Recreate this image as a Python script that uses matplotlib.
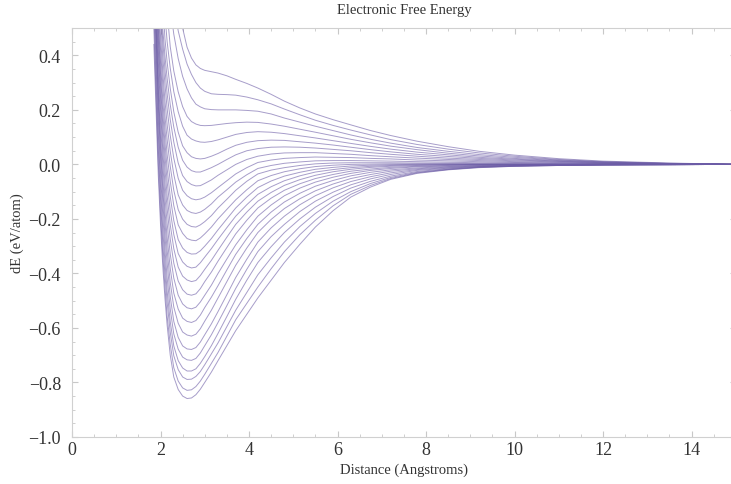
import matplotlib
matplotlib.use("Agg")
import matplotlib.pyplot as plt
from matplotlib.ticker import MultipleLocator, FuncFormatter

plt.rcParams['font.family'] = ['Liberation Serif', 'DejaVu Serif']

# distance grid (Angstroms) shared by all curves
dist = [1.85, 1.95, 2.0, 2.05, 2.1, 2.15, 2.22, 2.3, 2.4, 2.5, 2.6, 2.7,
        2.8, 2.9, 3.0, 3.15, 3.3, 3.5, 3.7, 3.95, 4.2, 4.5, 4.8, 5.15,
        5.5, 5.9, 6.3, 6.75, 7.2, 7.8, 8.5, 9.2, 10.0, 11.0, 12.0, 13.5, 15.0]

# dE (eV/atom), one list per curve, top curve first
dE_00 = [1.9, 1.5, 1.32, 1.17, 1.04, 0.93, 0.8, 0.69, 0.58, 0.50, 0.43, 0.39,
         0.365, 0.352, 0.345, 0.34, 0.335, 0.325, 0.312, 0.297, 0.28, 0.257, 0.232, 0.207,
         0.185, 0.164, 0.145, 0.124, 0.106, 0.085, 0.065, 0.048, 0.034, 0.021, 0.012, 0.005, 0.0]
dE_01 = [1.75, 1.38, 1.2, 1.05, 0.93, 0.82, 0.7, 0.59, 0.49, 0.423, 0.368, 0.33,
         0.30, 0.28, 0.268, 0.259, 0.257, 0.256, 0.254, 0.247, 0.237, 0.222, 0.203, 0.182,
         0.162, 0.143, 0.126, 0.108, 0.091, 0.073, 0.056, 0.042, 0.03, 0.018, 0.01, 0.004, 0.0]
dE_02 = [1.65, 1.25, 1.07, 0.92, 0.8, 0.7, 0.58, 0.478, 0.388, 0.323, 0.277, 0.244,
         0.221, 0.211, 0.204, 0.201, 0.2, 0.2, 0.2, 0.198, 0.195, 0.185, 0.17, 0.155,
         0.14, 0.124, 0.108, 0.092, 0.078, 0.062, 0.048, 0.036, 0.026, 0.016, 0.009, 0.003, 0.0]
dE_03 = [1.55, 1.12, 0.93, 0.78, 0.66, 0.56, 0.432, 0.343, 0.266, 0.212, 0.176, 0.157,
         0.148, 0.143, 0.142, 0.143, 0.146, 0.15, 0.153, 0.155, 0.154, 0.148, 0.14, 0.129,
         0.118, 0.105, 0.092, 0.079, 0.067, 0.054, 0.041, 0.031, 0.022, 0.014, 0.008, 0.003, 0.0]
dE_04 = [1.45, 1.02, 0.84, 0.68, 0.55, 0.45, 0.353, 0.267, 0.193, 0.14, 0.107, 0.093,
         0.086, 0.082, 0.081, 0.084, 0.09, 0.1, 0.11, 0.117, 0.12, 0.118, 0.113, 0.105,
         0.097, 0.087, 0.077, 0.066, 0.056, 0.045, 0.035, 0.026, 0.019, 0.012, 0.007, 0.003, 0.0]
dE_05 = [1.35, 0.93, 0.75, 0.6, 0.462, 0.375, 0.279, 0.193, 0.118, 0.068, 0.043, 0.028,
         0.022, 0.02, 0.022, 0.03, 0.04, 0.056, 0.07, 0.081, 0.087, 0.089, 0.088, 0.083,
         0.078, 0.071, 0.063, 0.054, 0.046, 0.037, 0.029, 0.022, 0.016, 0.011, 0.006, 0.002, 0.0]
dE_06 = [1.25, 0.85, 0.66, 0.5, 0.399, 0.315, 0.219, 0.137, 0.063, 0.015, -0.01, -0.023,
         -0.028, -0.028, -0.022, -0.012, 0.0, 0.018, 0.035, 0.05, 0.058, 0.063, 0.064, 0.063,
         0.06, 0.055, 0.05, 0.043, 0.037, 0.03, 0.023, 0.018, 0.013, 0.009, 0.005, 0.002, 0.0]
dE_07 = [1.2, 0.78, 0.6, 0.454, 0.349, 0.259, 0.164, 0.082, 0.005, -0.041, -0.063, -0.074,
         -0.079, -0.078, -0.07, -0.057, -0.04, -0.02, 0.0, 0.018, 0.03, 0.038, 0.042, 0.043,
         0.043, 0.04, 0.037, 0.032, 0.028, 0.023, 0.018, 0.014, 0.01, 0.007, 0.004, 0.002, 0.0]
dE_08 = [1.15, 0.7, 0.54, 0.399, 0.295, 0.204, 0.106, 0.023, -0.051, -0.095, -0.115, -0.126,
         -0.13, -0.127, -0.12, -0.104, -0.085, -0.06, -0.035, -0.012, 0.007, 0.016, 0.022, 0.025,
         0.027, 0.026, 0.025, 0.022, 0.02, 0.016, 0.013, 0.01, 0.007, 0.005, 0.003, 0.001, 0.0]
dE_09 = [1.1, 0.63, 0.473, 0.345, 0.235, 0.146, 0.048, -0.037, -0.112, -0.149, -0.169, -0.177,
         -0.18, -0.175, -0.165, -0.145, -0.12, -0.093, -0.065, -0.038, -0.015, -0.004, 0.004, 0.009,
         0.013, 0.014, 0.014, 0.013, 0.012, 0.01, 0.008, 0.006, 0.005, 0.003, 0.002, 0.001, 0.0]
dE_10 = [1.05, 0.57, 0.423, 0.296, 0.179, 0.091, -0.007, -0.095, -0.166, -0.201, -0.22, -0.228,
         -0.23, -0.222, -0.21, -0.188, -0.16, -0.128, -0.095, -0.062, -0.035, -0.021, -0.012, -0.004,
         0.002, 0.005, 0.006, 0.006, 0.006, 0.005, 0.004, 0.003, 0.003, 0.002, 0.001, 0.0, 0.0]
dE_11 = [1.0, 0.53, 0.375, 0.239, 0.13, 0.036, -0.062, -0.151, -0.222, -0.253, -0.272, -0.278,
         -0.28, -0.27, -0.255, -0.23, -0.20, -0.165, -0.13, -0.093, -0.06, -0.041, -0.027, -0.016,
         -0.008, -0.003, 0.0, 0.001, 0.002, 0.002, 0.002, 0.001, 0.001, 0.0, 0.0, 0.0, 0.0]
dE_12 = [0.96, 0.5, 0.334, 0.193, 0.081, -0.015, -0.118, -0.206, -0.276, -0.307, -0.323, -0.329,
         -0.328, -0.317, -0.30, -0.272, -0.24, -0.2, -0.16, -0.12, -0.085, -0.061, -0.043, -0.029,
         -0.018, -0.011, -0.006, -0.003, -0.001, 0.0, 0.0, 0.0, 0.0, 0.0, 0.0, 0.0, 0.0]
dE_13 = [0.92, 0.462, 0.293, 0.148, 0.034, -0.063, -0.169, -0.257, -0.327, -0.358, -0.374, -0.38,
         -0.377, -0.361, -0.34, -0.309, -0.275, -0.232, -0.19, -0.148, -0.11, -0.082, -0.06, -0.042,
         -0.028, -0.019, -0.012, -0.007, -0.004, -0.002, -0.001, 0.0, 0.0, 0.0, 0.0, 0.0, 0.0]
dE_14 = [0.88, 0.421, 0.249, 0.10, -0.016, -0.114, -0.221, -0.309, -0.377, -0.41, -0.424, -0.43,
         -0.426, -0.408, -0.385, -0.352, -0.315, -0.267, -0.22, -0.175, -0.135, -0.103, -0.077, -0.056,
         -0.04, -0.027, -0.018, -0.011, -0.007, -0.004, -0.002, -0.001, -0.001, 0.0, 0.0, 0.0, 0.0]
dE_15 = [0.84, 0.378, 0.206, 0.054, -0.068, -0.162, -0.274, -0.362, -0.428, -0.46, -0.476, -0.48,
         -0.475, -0.456, -0.43, -0.395, -0.355, -0.305, -0.255, -0.205, -0.16, -0.124, -0.095, -0.071,
         -0.052, -0.037, -0.025, -0.017, -0.011, -0.007, -0.004, -0.002, -0.001, -0.001, 0.0, 0.0, 0.0]
dE_16 = [0.80, 0.33, 0.155, 0.006, -0.118, -0.216, -0.329, -0.417, -0.48, -0.512, -0.526, -0.53,
         -0.524, -0.505, -0.48, -0.443, -0.40, -0.347, -0.295, -0.24, -0.19, -0.149, -0.115, -0.087,
         -0.065, -0.047, -0.033, -0.022, -0.015, -0.009, -0.006, -0.004, -0.002, -0.001, -0.001, 0.0, 0.0]
dE_17 = [0.76, 0.284, 0.10, -0.045, -0.17, -0.267, -0.382, -0.472, -0.531, -0.564, -0.576, -0.58,
         -0.573, -0.553, -0.525, -0.487, -0.445, -0.387, -0.33, -0.272, -0.22, -0.175, -0.138, -0.106,
         -0.08, -0.059, -0.042, -0.029, -0.02, -0.013, -0.008, -0.005, -0.003, -0.002, -0.001, 0.0, 0.0]
dE_18 = [0.74, 0.255, 0.063, -0.088, -0.212, -0.314, -0.433, -0.523, -0.583, -0.615, -0.626, -0.63,
         -0.623, -0.603, -0.575, -0.535, -0.49, -0.43, -0.37, -0.307, -0.25, -0.202, -0.162, -0.126,
         -0.097, -0.072, -0.052, -0.037, -0.025, -0.016, -0.01, -0.006, -0.004, -0.002, -0.001, -0.001, 0.0]
dE_19 = [0.72, 0.22, 0.028, -0.131, -0.261, -0.361, -0.485, -0.576, -0.635, -0.666, -0.677, -0.679,
         -0.672, -0.652, -0.625, -0.585, -0.54, -0.478, -0.415, -0.348, -0.285, -0.233, -0.19, -0.148,
         -0.115, -0.086, -0.063, -0.045, -0.031, -0.019, -0.012, -0.008, -0.005, -0.003, -0.001, -0.001, 0.0]
dE_20 = [0.68, 0.17, -0.03, -0.183, -0.311, -0.415, -0.531, -0.622, -0.678, -0.707, -0.717, -0.719,
         -0.712, -0.692, -0.665, -0.625, -0.58, -0.518, -0.455, -0.385, -0.32, -0.265, -0.22, -0.173,
         -0.135, -0.102, -0.075, -0.053, -0.037, -0.022, -0.014, -0.008, -0.005, -0.003, -0.002, -0.001, 0.0]
dE_21 = [0.62, 0.116, -0.08, -0.237, -0.357, -0.464, -0.577, -0.666, -0.72, -0.747, -0.758, -0.758,
         -0.75, -0.73, -0.705, -0.665, -0.62, -0.558, -0.495, -0.425, -0.36, -0.302, -0.25, -0.2,
         -0.157, -0.118, -0.087, -0.062, -0.043, -0.026, -0.016, -0.01, -0.006, -0.003, -0.002, -0.001, 0.0]
dE_22 = [0.56, 0.06, -0.125, -0.287, -0.403, -0.506, -0.616, -0.702, -0.753, -0.78, -0.789, -0.788,
         -0.778, -0.76, -0.735, -0.695, -0.655, -0.595, -0.535, -0.47, -0.405, -0.343, -0.285, -0.228,
         -0.18, -0.135, -0.1, -0.07, -0.048, -0.029, -0.018, -0.01, -0.006, -0.004, -0.002, -0.001, 0.0]
dE_23 = [0.5, 0.004, -0.18, -0.33, -0.45, -0.557, -0.66, -0.746, -0.795, -0.82, -0.829, -0.827,
         -0.815, -0.795, -0.77, -0.73, -0.69, -0.63, -0.57, -0.51, -0.45, -0.383, -0.32, -0.258,
         -0.205, -0.152, -0.11, -0.077, -0.052, -0.031, -0.019, -0.011, -0.007, -0.004, -0.002, -0.001, 0.0]
dE_24 = [0.44, -0.04, -0.22, -0.37, -0.49, -0.59, -0.70, -0.78, -0.826, -0.85, -0.859, -0.857,
         -0.845, -0.825, -0.80, -0.762, -0.72, -0.665, -0.61, -0.55, -0.49, -0.425, -0.36, -0.293,
         -0.23, -0.17, -0.12, -0.083, -0.055, -0.033, -0.02, -0.012, -0.007, -0.004, -0.002, -0.001, 0.0]

curves = [dE_00, dE_01, dE_02, dE_03, dE_04, dE_05, dE_06, dE_07, dE_08,
          dE_09, dE_10, dE_11, dE_12, dE_13, dE_14, dE_15, dE_16, dE_17,
          dE_18, dE_19, dE_20, dE_21, dE_22, dE_23, dE_24]

fig = plt.figure(figsize=(7.31, 4.85), dpi=100)
ax = fig.add_axes([0.0985, 0.097, 0.908, 0.843])

for ys in curves:
    ax.plot(dist, ys, color='#6c5ca6', lw=0.7, alpha=0.6)

ax.set_xlim(0, 15)
ax.set_ylim(-1.0, 0.5)
ax.xaxis.set_major_locator(MultipleLocator(2))
ax.xaxis.set_minor_locator(MultipleLocator(0.5))
ax.yaxis.set_major_locator(MultipleLocator(0.2))
ax.yaxis.set_minor_locator(MultipleLocator(0.05))
ax.xaxis.set_major_formatter(FuncFormatter(lambda v, p: '%d' % round(v)))
ax.yaxis.set_major_formatter(FuncFormatter(lambda v, p: ('%.1f' % v).replace('-', '\u2212')))

for sp in ax.spines.values():
    sp.set_color('#d0d0d0')
    sp.set_linewidth(0.8)
ax.tick_params(which='both', direction='in', color='#c8c8c8', top=True, right=True)
ax.tick_params(which='major', length=4, labelsize=13, labelcolor='#333333')
ax.tick_params(which='minor', length=2)
ax.tick_params(axis='y', pad=8)
ax.tick_params(axis='x', pad=3)

ax.set_xlabel('Distance (Angstroms)', fontsize=10.5, color='#333333', labelpad=3)
ax.set_ylabel('dE (eV/atom)', fontsize=10.5, color='#333333', labelpad=3)
ax.set_title('Electronic Free Energy', fontsize=10.5, color='#333333', pad=11)

fig.savefig('out.png', dpi=100)
